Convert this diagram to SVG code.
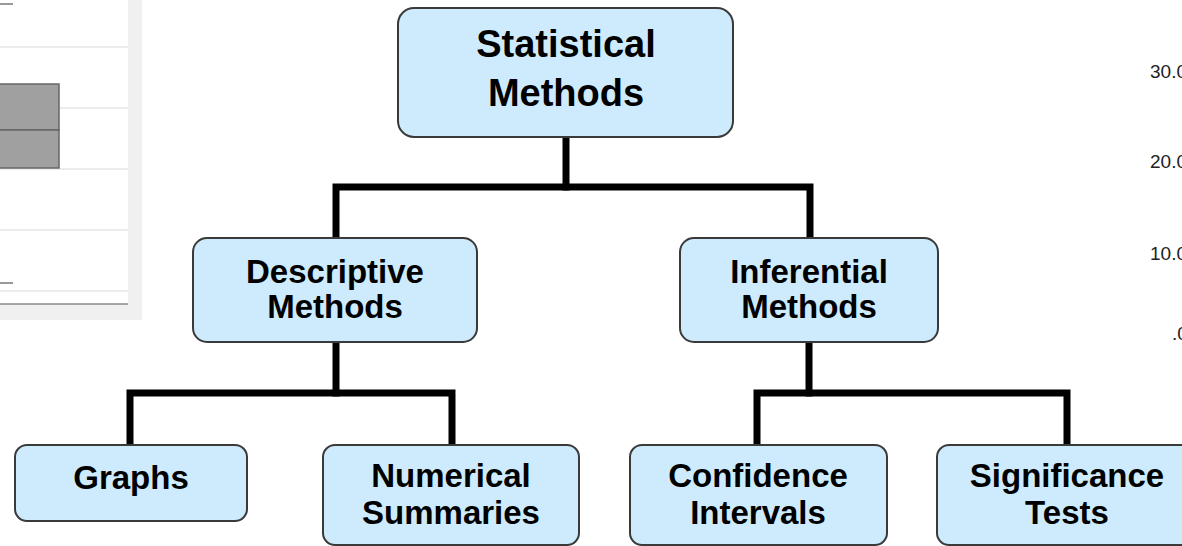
<svg xmlns="http://www.w3.org/2000/svg" width="1182" height="546" viewBox="0 0 1182 546">
<style>
.box{fill:#cdebfc;stroke:#3a3a3a;stroke-width:2}
.lbl{font-family:"Liberation Sans",Arial,sans-serif;font-weight:bold;fill:#000;text-anchor:middle}
.l1{font-size:38px}
.l2{font-size:33px}
.conn{fill:none;stroke:#000;stroke-width:7;stroke-linejoin:miter;stroke-linecap:square}
.grid{stroke:#ececec;stroke-width:2}
.ax{font-family:"Liberation Sans",Arial,sans-serif;font-size:19px;fill:#222}
</style>
<rect width="1182" height="546" fill="#fff"/>
<g id="chart-fragment">
<rect x="0" y="0" width="142" height="320" fill="#f0f0f0"/>
<rect x="0" y="0" width="128" height="304" fill="#fff"/>
<line class="grid" x1="0" y1="47" x2="128" y2="47"/>
<line class="grid" x1="0" y1="108" x2="128" y2="108"/>
<line class="grid" x1="0" y1="169" x2="128" y2="169"/>
<line class="grid" x1="0" y1="230" x2="128" y2="230"/>
<line class="grid" x1="0" y1="291" x2="128" y2="291"/>
<line x1="0" y1="304" x2="128" y2="304" stroke="#8a8a8a" stroke-width="1.5"/>
<line x1="0" y1="4" x2="13" y2="4" stroke="#777" stroke-width="1.5"/>
<line x1="0" y1="283" x2="13" y2="283" stroke="#777" stroke-width="1.5"/>
<rect x="-2" y="84" width="61" height="46" fill="#a0a0a0" stroke="#666" stroke-width="1.5"/>
<rect x="-2" y="130" width="61" height="38" fill="#a0a0a0" stroke="#666" stroke-width="1.5"/>
</g>
<g id="axis-labels">
<text class="ax" x="1150" y="78">30.0</text>
<text class="ax" x="1150" y="168">20.0</text>
<text class="ax" x="1150" y="260">10.0</text>
<text class="ax" x="1172" y="340">.0</text>
</g>
<g id="connectors">
<polyline class="conn" points="566,137 566,187"/>
<polyline class="conn" points="336,238 336,187 810,187 810,238"/>
<polyline class="conn" points="336,342 336,393"/>
<polyline class="conn" points="130,445 130,393 452,393 452,445"/>
<polyline class="conn" points="809,342 809,393"/>
<polyline class="conn" points="757,445 757,393 1067,393 1067,445"/>
</g>
<g id="statistical-methods">
<rect class="box" x="398" y="8" width="335" height="129" rx="16"/>
<text class="lbl l1" x="566" y="57">Statistical</text>
<text class="lbl l1" x="566" y="106">Methods</text>
</g>
<g id="descriptive-methods">
<rect class="box" x="193" y="238" width="284" height="104" rx="14"/>
<text class="lbl l2" x="335" y="283">Descriptive</text>
<text class="lbl l2" x="335" y="318">Methods</text>
</g>
<g id="inferential-methods">
<rect class="box" x="680" y="238" width="258" height="104" rx="14"/>
<text class="lbl l2" x="809" y="283">Inferential</text>
<text class="lbl l2" x="809" y="318">Methods</text>
</g>
<g id="graphs">
<rect class="box" x="15" y="445" width="232" height="76" rx="12"/>
<text class="lbl l2" x="131" y="489">Graphs</text>
</g>
<g id="numerical-summaries">
<rect class="box" x="323" y="445" width="256" height="100" rx="12"/>
<text class="lbl l2" x="451" y="487">Numerical</text>
<text class="lbl l2" x="451" y="524">Summaries</text>
</g>
<g id="confidence-intervals">
<rect class="box" x="630" y="445" width="257" height="100" rx="12"/>
<text class="lbl l2" x="758" y="487">Confidence</text>
<text class="lbl l2" x="758" y="524">Intervals</text>
</g>
<g id="significance-tests">
<rect class="box" x="937" y="445" width="260" height="100" rx="12"/>
<text class="lbl l2" x="1067" y="487">Significance</text>
<text class="lbl l2" x="1067" y="524">Tests</text>
</g>
</svg>
